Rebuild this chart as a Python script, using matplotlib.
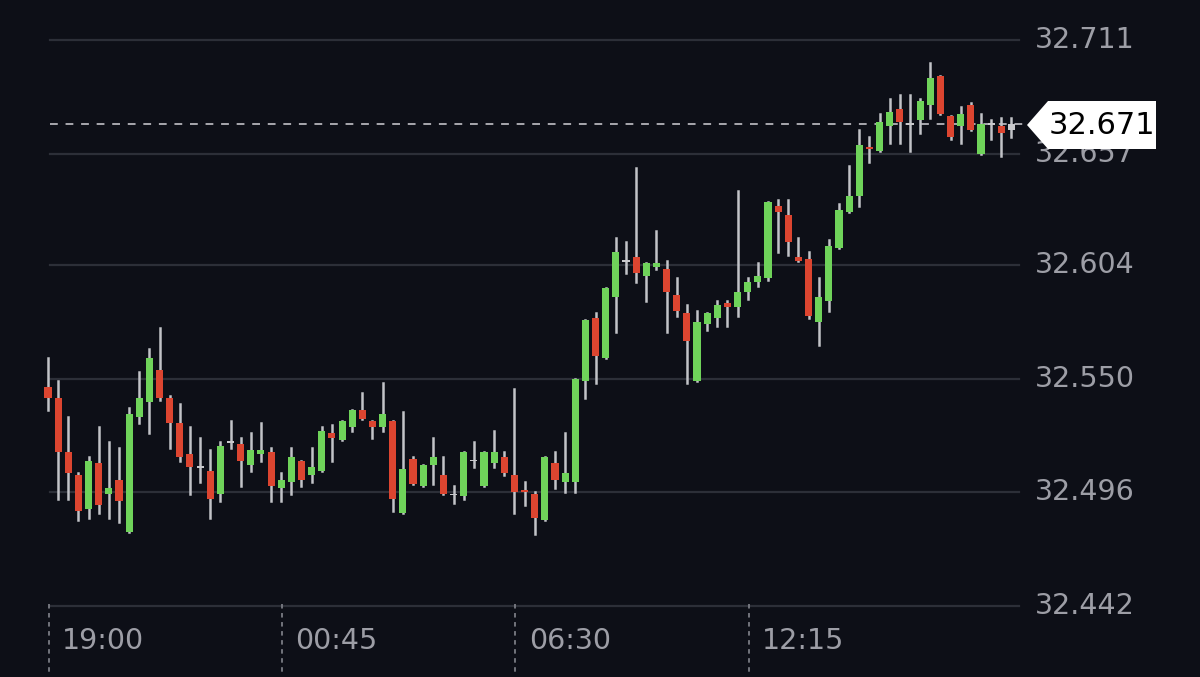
import matplotlib
matplotlib.use("Agg")
import matplotlib.pyplot as plt
from matplotlib.patches import Polygon, Rectangle

# 15-minute candles, 19:00 onwards
opens = [32.546, 32.541, 32.515, 32.504, 32.488, 32.510, 32.495, 32.502, 32.477, 32.532,
         32.539, 32.554, 32.541, 32.529, 32.514, 32.508, 32.506, 32.495, 32.520, 32.519,
         32.509, 32.514, 32.515, 32.498, 32.501, 32.511, 32.504, 32.506, 32.524, 32.521,
         32.527, 32.535, 32.530, 32.527, 32.530, 32.486, 32.512, 32.499, 32.509, 32.504,
         32.495, 32.494, 32.511, 32.499, 32.510, 32.513, 32.504, 32.497, 32.495, 32.483,
         32.510, 32.501, 32.501, 32.549, 32.579, 32.560, 32.589, 32.606, 32.608, 32.599,
         32.603, 32.602, 32.590, 32.581, 32.549, 32.576, 32.579, 32.586, 32.584, 32.591,
         32.596, 32.598, 32.632, 32.628, 32.608, 32.607, 32.577, 32.587, 32.612, 32.629,
         32.637, 32.660, 32.658, 32.670, 32.678, 32.671, 32.673, 32.680, 32.694, 32.675,
         32.670, 32.680, 32.657, 32.671, 32.670, 32.668]
highs = [32.560, 32.549, 32.532, 32.505, 32.513, 32.527, 32.520, 32.517, 32.536, 32.553,
         32.564, 32.574, 32.542, 32.538, 32.527, 32.522, 32.516, 32.520, 32.530, 32.522,
         32.524, 32.529, 32.517, 32.505, 32.517, 32.511, 32.517, 32.527, 32.528, 32.530,
         32.535, 32.543, 32.530, 32.548, 32.530, 32.534, 32.513, 32.509, 32.522, 32.513,
         32.499, 32.515, 32.520, 32.515, 32.525, 32.515, 32.545, 32.501, 32.496, 32.513,
         32.515, 32.524, 32.550, 32.578, 32.581, 32.593, 32.617, 32.615, 32.650, 32.605,
         32.620, 32.606, 32.598, 32.585, 32.582, 32.581, 32.587, 32.587, 32.639, 32.598,
         32.605, 32.634, 32.635, 32.635, 32.617, 32.610, 32.598, 32.616, 32.633, 32.651,
         32.668, 32.665, 32.676, 32.683, 32.685, 32.685, 32.683, 32.700, 32.694, 32.675,
         32.679, 32.681, 32.676, 32.673, 32.674, 32.674]
lows = [32.535, 32.493, 32.493, 32.483, 32.484, 32.486, 32.484, 32.482, 32.477, 32.529,
        32.524, 32.540, 32.517, 32.511, 32.495, 32.501, 32.484, 32.492, 32.517, 32.499,
        32.506, 32.511, 32.492, 32.492, 32.495, 32.499, 32.501, 32.506, 32.511, 32.521,
        32.525, 32.531, 32.522, 32.525, 32.487, 32.486, 32.500, 32.499, 32.500, 32.495,
        32.491, 32.493, 32.508, 32.499, 32.508, 32.504, 32.486, 32.490, 32.476, 32.483,
        32.498, 32.496, 32.496, 32.541, 32.548, 32.560, 32.572, 32.600, 32.596, 32.587,
        32.602, 32.572, 32.580, 32.548, 32.549, 32.573, 32.575, 32.575, 32.580, 32.588,
        32.594, 32.597, 32.610, 32.609, 32.606, 32.579, 32.566, 32.582, 32.612, 32.629,
        32.632, 32.653, 32.658, 32.662, 32.662, 32.658, 32.667, 32.674, 32.676, 32.664,
        32.662, 32.668, 32.657, 32.664, 32.656, 32.665]
closes = [32.541, 32.515, 32.505, 32.487, 32.511, 32.490, 32.498, 32.492, 32.533, 32.541,
          32.560, 32.541, 32.529, 32.513, 32.508, 32.508, 32.493, 32.518, 32.520, 32.511,
          32.516, 32.516, 32.499, 32.502, 32.513, 32.502, 32.508, 32.525, 32.522, 32.530,
          32.535, 32.531, 32.527, 32.533, 32.493, 32.507, 32.500, 32.509, 32.513, 32.495,
          32.495, 32.515, 32.511, 32.515, 32.515, 32.505, 32.496, 32.496, 32.484, 32.513,
          32.502, 32.505, 32.550, 32.578, 32.561, 32.593, 32.610, 32.606, 32.600, 32.605,
          32.605, 32.591, 32.582, 32.568, 32.577, 32.581, 32.585, 32.584, 32.591, 32.596,
          32.599, 32.634, 32.629, 32.615, 32.606, 32.580, 32.589, 32.613, 32.630, 32.637,
          32.661, 32.659, 32.672, 32.677, 32.672, 32.671, 32.682, 32.693, 32.676, 32.665,
          32.676, 32.668, 32.671, 32.671, 32.667, 32.671]

price_ticks = [32.711, 32.657, 32.604, 32.550, 32.496, 32.442]
time_labels = ["19:00", "00:45", "06:30", "12:15"]
time_idx = [0, 23, 46, 69]
last_price = 32.671

BG = "#0d0f17"
GREEN = "#6fd35a"
RED = "#dc4530"
GREY = "#c9c9cc"
TXT = "#9d9ea6"

fig = plt.figure(figsize=(12, 6.77), dpi=100, facecolor=BG)
ax = fig.add_axes([0, 0, 1, 1])
ax.set_facecolor(BG)
ax.set_xlim(-4.73, 113.6)
ax.set_ylim(32.4082, 32.730)
ax.axis("off")

for p in price_ticks:
    ax.plot([0.2, 95.8], [p, p], color="#2c2f38", lw=1.6, zorder=1)
    ax.text(97.3, p, f"{p:.3f}", color=TXT, fontsize=20.5, va="center", ha="left", zorder=2)

for i, lab in zip(time_idx, time_labels):
    ax.plot([i + 0.1, i + 0.1], [32.443, 32.410], color="#7a7c84", lw=1.3,
             ls=(0, (2.5, 2.5)), zorder=1)
    ax.text(i + 1.4, 32.4255, lab, color=TXT, fontsize=20.5, va="center", ha="left")

ax.plot([0.2, 96.3], [last_price, last_price], color="#a8a8ae", lw=1.4,
         ls=(0, (4, 4)), zorder=2)

w = 0.7
for i, (o, h, l, c) in enumerate(zip(opens, highs, lows, closes)):
    if i == len(opens) - 1:
        col = GREY
    elif c > o:
        col = GREEN
    elif c < o:
        col = RED
    else:
        col = GREY
    ax.plot([i, i], [l, h], color="#c2c3c8", lw=1.8, zorder=3)
    bottom = min(o, c)
    height = max(abs(c - o), 0.0007)
    if c == o:
        bottom -= 0.00035
    ax.add_patch(Rectangle((i - w / 2, bottom), w, height, color=col, zorder=4, lw=0))

# last price tag
tag = Polygon([[1027 / 1200, 1 - 125 / 677], [1048 / 1200, 1 - 101 / 677],
               [1156 / 1200, 1 - 101 / 677], [1156 / 1200, 1 - 149 / 677],
               [1048 / 1200, 1 - 149 / 677]], closed=True, transform=fig.transFigure,
              facecolor="white", edgecolor="none", zorder=5)
fig.patches.append(tag)
fig.text(1102 / 1200, 1 - 125 / 677, f"{last_price:.3f}", color="black", fontsize=22,
         ha="center", va="center", zorder=6)

fig.savefig("out.png", dpi=100, facecolor=BG)
